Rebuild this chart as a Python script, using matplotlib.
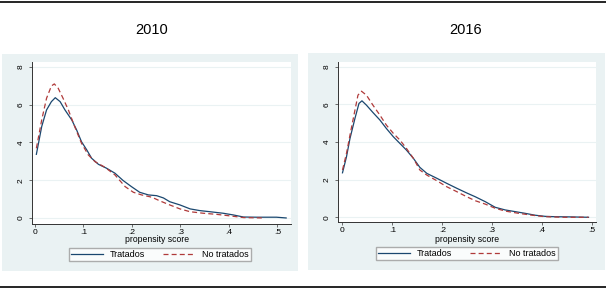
import matplotlib
matplotlib.use("Agg")
import matplotlib.pyplot as plt
from matplotlib.patches import Rectangle
from matplotlib.lines import Line2D

plt.rcParams['font.family'] = ['Liberation Sans', 'DejaVu Sans']

# 2010 kernel densities
x10_trat = [0.003, 0.014, 0.024, 0.034, 0.042, 0.052, 0.062, 0.076, 0.086, 0.096,
            0.107, 0.117, 0.131, 0.148, 0.165, 0.182, 0.199, 0.216, 0.234, 0.251,
            0.265, 0.278, 0.299, 0.320, 0.340, 0.361, 0.388, 0.409, 0.430, 0.457,
            0.498, 0.518]
y10_trat = [3.37, 4.84, 5.72, 6.16, 6.37, 6.16, 5.72, 5.19, 4.66, 4.04,
            3.60, 3.16, 2.84, 2.63, 2.37, 1.98, 1.66, 1.36, 1.22, 1.18,
            1.06, 0.86, 0.69, 0.48, 0.39, 0.33, 0.25, 0.16, 0.05, 0.04,
            0.04, 0.0]
x10_no = [0.003, 0.014, 0.024, 0.034, 0.040, 0.048, 0.058, 0.069, 0.082, 0.096,
          0.110, 0.124, 0.144, 0.165, 0.186, 0.203, 0.220, 0.241, 0.258, 0.278,
          0.299, 0.320, 0.347, 0.375, 0.402, 0.430, 0.470]
y10_no = [3.69, 5.19, 6.34, 6.99, 7.10, 6.87, 6.34, 5.72, 4.84, 3.96,
          3.34, 2.98, 2.69, 2.28, 1.66, 1.36, 1.22, 1.10, 0.90, 0.69,
          0.48, 0.33, 0.25, 0.19, 0.11, 0.02, 0.0]

# 2016 kernel densities
x16_trat = [0.0, 0.008, 0.015, 0.025, 0.033, 0.039, 0.048, 0.061, 0.075, 0.088,
            0.102, 0.115, 0.128, 0.142, 0.155, 0.169, 0.189, 0.209, 0.229, 0.249,
            0.266, 0.286, 0.306, 0.326, 0.346, 0.366, 0.386, 0.406, 0.426, 0.460,
            0.493]
y16_trat = [2.37, 3.22, 4.19, 5.26, 6.05, 6.19, 5.96, 5.57, 5.17, 4.72,
            4.28, 3.93, 3.58, 3.14, 2.66, 2.34, 2.08, 1.81, 1.55, 1.30,
            1.10, 0.84, 0.54, 0.40, 0.31, 0.22, 0.12, 0.06, 0.04, 0.03,
            0.01]
x16_no = [0.0, 0.008, 0.015, 0.025, 0.031, 0.038, 0.048, 0.061, 0.075, 0.088,
          0.102, 0.115, 0.128, 0.142, 0.155, 0.169, 0.189, 0.209, 0.229, 0.249,
          0.266, 0.286, 0.306, 0.326, 0.353, 0.380, 0.406, 0.446, 0.493]
y16_no = [2.52, 3.40, 4.37, 5.70, 6.49, 6.70, 6.49, 5.96, 5.43, 4.90,
          4.46, 4.11, 3.67, 3.14, 2.52, 2.25, 1.95, 1.63, 1.37, 1.10,
          0.89, 0.71, 0.49, 0.34, 0.22, 0.12, 0.04, 0.01, 0.01]

years = ['2010', '2016']
yticks = [0, 2, 4, 6, 8]
xticks = [0, 0.1, 0.2, 0.3, 0.4, 0.5]
xlabels = ['0', '.1', '.2', '.3', '.4', '.5']

W, H = 606, 290
fig = plt.figure(figsize=(W / 100, H / 100), dpi=100)

BG = '#eaf2f3'
NAVY = '#1a476f'
RED = '#b03a3a'


def px(x0, y0, x1, y1):
    # pixel box (top-left origin) -> figure fraction rect
    return [x0 / W, 1 - y1 / H, (x1 - x0) / W, (y1 - y0) / H]


# top and bottom rules
fig.add_artist(Line2D([0, 1], [1 - 1.5 / H, 1 - 1.5 / H], color='black', lw=1.2))
fig.add_artist(Line2D([0, 1], [1 - 287 / H, 1 - 287 / H], color='black', lw=1.2))

panels = [
    dict(year=years[0], bg=(2, 54, 298, 271), ax=(32, 62, 291, 224),
         xlim=(-0.006, 0.528), ylim=(-0.32, 8.26),
         trat=(x10_trat, y10_trat), no=(x10_no, y10_no), title_x=152,
         xlab=(157, 240), leg=(83, 247, 237, 262)),
    dict(year=years[1], bg=(308, 53, 605, 270), ax=(338, 62, 596, 222),
         xlim=(-0.009, 0.508), ylim=(-0.24, 8.25),
         trat=(x16_trat, y16_trat), no=(x16_no, y16_no), title_x=466,
         xlab=(467, 239), leg=(390, 246, 544, 261)),
]

for p in panels:
    bx0, by0, bx1, by1 = p['bg']
    fig.add_artist(Rectangle((bx0 / W, 1 - by1 / H), (bx1 - bx0) / W, (by1 - by0) / H,
                             transform=fig.transFigure, facecolor=BG, edgecolor='none',
                             zorder=0))
    fig.text(p['title_x'] / W, 1 - 30 / H, p['year'],
             ha='center', va='center', fontsize=10.5)

    ax = fig.add_axes(px(*p['ax']))
    ax.set_facecolor('white')
    ax.plot(*p['trat'], color=NAVY, lw=0.9, label='Tratados')
    ax.plot(*p['no'], color=RED, lw=0.9, ls=(0, (4, 2.5)), label='No tratados')
    ax.set_xlim(*p['xlim'])
    ax.set_ylim(*p['ylim'])
    ax.set_xticks(xticks)
    ax.set_xticklabels(xlabels)
    ax.set_yticks(yticks)
    ax.set_yticklabels([str(v) for v in yticks], rotation=90, va='center')
    ax.grid(axis='y', color=BG, lw=0.8)
    ax.set_axisbelow(True)
    for s in ['top', 'right']:
        ax.spines[s].set_visible(False)
    for s in ['left', 'bottom']:
        ax.spines[s].set_linewidth(0.7)
        ax.spines[s].set_color('#333333')
    ax.tick_params(length=2.5, width=0.6, labelsize=6, pad=1.2, color='#555555')
    ax.tick_params(axis='y', pad=2.5)

    fig.text(p['xlab'][0] / W, 1 - p['xlab'][1] / H, 'propensity score',
             ha='center', va='center', fontsize=6.2)

    lx0, ly0, lx1, ly1 = p['leg']
    ax.legend(loc='center', bbox_to_anchor=px(lx0, ly0, lx1, ly1),
              bbox_transform=fig.transFigure, ncol=2, fontsize=6.5, frameon=True,
              fancybox=False, edgecolor='#999999', handlelength=3.5,
              columnspacing=2.0, borderpad=0.2, handletextpad=0.8)

fig.savefig('out.png', dpi=100, facecolor='white')
